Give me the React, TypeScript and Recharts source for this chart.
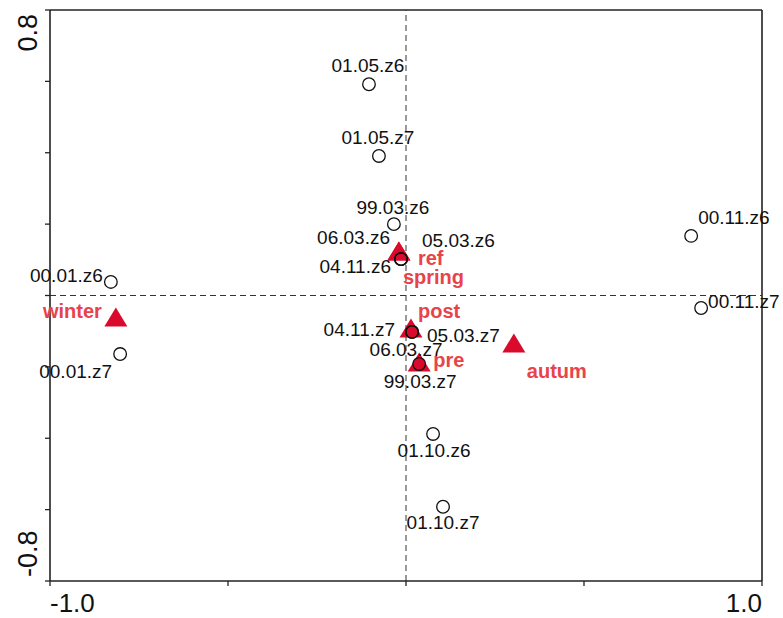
import { ScatterChart, Scatter, XAxis, YAxis, ReferenceLine } from "recharts";

// site scores (open circles)
const siteNames = [
  "01.05.z6", "01.05.z7", "99.03.z6", "04.11.z6", "06.03.z6", "05.03.z6",
  "04.11.z7", "05.03.z7", "06.03.z7", "99.03.z7", "00.01.z6", "00.01.z7",
  "00.11.z6", "00.11.z7", "01.10.z6", "01.10.z7",
];
const siteX = [
  -0.104, -0.076, -0.034, -0.014, -0.014, -0.014,
  0.017, 0.017, 0.017, 0.037, -0.829, -0.803,
  0.801, 0.829, 0.076, 0.104,
];
const siteY = [
  0.592, 0.391, 0.2, 0.102, 0.102, 0.102,
  -0.102, -0.102, -0.102, -0.192, 0.038, -0.164,
  0.167, -0.035, -0.388, -0.592,
];

// environmental / season centroids (red triangles)
const factorNames = ["ref", "spring", "post", "pre", "winter", "autum"];
const factorX = [-0.02, -0.02, 0.014, 0.037, -0.815, 0.303];
const factorY = [0.125, 0.125, -0.091, -0.186, -0.06, -0.133];

const xTicks = [-1, -0.5, 0, 0.5, 1];
const yTicks = [-0.8, -0.6, -0.4, -0.2, 0, 0.2, 0.4, 0.6, 0.8];

// label placement: [dx, dy, anchor]
type Place = [number, number, "start" | "middle" | "end"];
const siteLabelPlace: Record<string, Place> = {
  "01.05.z6": [-1, -12, "middle"],
  "01.05.z7": [-1, -12, "middle"],
  "99.03.z6": [-1, -10, "middle"],
  "04.11.z6": [-10, 14, "end"],
  "06.03.z6": [-11, -15, "end"],
  "05.03.z6": [21, -12, "start"],
  "04.11.z7": [-17, 4, "end"],
  "05.03.z7": [15, 10, "start"],
  "06.03.z7": [-6, 24, "middle"],
  "99.03.z7": [1, 24, "middle"],
  "00.01.z6": [-8, 0, "end"],
  "00.01.z7": [-8, 24, "end"],
  "00.11.z6": [7, -12, "start"],
  "00.11.z7": [7, 0, "start"],
  "01.10.z6": [1, 23, "middle"],
  "01.10.z7": [0, 22, "middle"],
};
const factorLabelPlace: Record<string, Place> = {
  ref: [19, 14, "start"],
  spring: [4, 33, "start"],
  post: [7, -10, "start"],
  pre: [14, 5, "start"],
  winter: [-14, 1, "end"],
  autum: [13, 35, "start"],
};

const sites = siteNames.map((name, i) => ({ name, x: siteX[i], y: siteY[i] }));
const factors = factorNames.map((name, i) => ({ name, x: factorX[i], y: factorY[i] }));

const FONT = "'Liberation Sans', Arial, sans-serif";
const AXIS = "#222";
const RED = "#da0a2c";
const LABEL_RED = "#e8434b";

function SiteShape(props: any) {
  const { cx, cy, payload } = props;
  const [dx, dy, anchor] = siteLabelPlace[payload.name] || [0, -12, "middle"];
  return (
    <g>
      <circle cx={cx} cy={cy} r={6.3} fill="none" stroke="#111" strokeWidth={1.3} />
      <text x={cx + dx} y={cy + dy} textAnchor={anchor} fontSize={19} fontFamily={FONT} fill="#111">
        {payload.name}
      </text>
    </g>
  );
}

function FactorShape(props: any) {
  const { cx, cy, payload } = props;
  const [dx, dy, anchor] = factorLabelPlace[payload.name] || [10, 0, "start"];
  const pts = `${cx},${cy - 9.5} ${cx - 11.5},${cy + 9.5} ${cx + 11.5},${cy + 9.5}`;
  return (
    <g>
      <polygon points={pts} fill={RED} />
      <text
        x={cx + dx}
        y={cy + dy}
        textAnchor={anchor}
        fontSize={20}
        fontWeight="bold"
        fontFamily={FONT}
        fill={LABEL_RED}
      >
        {payload.name}
      </text>
    </g>
  );
}

function XTick(props: any) {
  const { x, y, payload } = props;
  if (payload.value !== -1 && payload.value !== 1) return null;
  const first = payload.value === -1;
  return (
    <text x={x} y={y + 25} textAnchor={first ? "start" : "end"} fontSize={26} fontFamily={FONT} fill="#111">
      {payload.value.toFixed(1)}
    </text>
  );
}

function YTick(props: any) {
  const { y, payload } = props;
  if (payload.value !== 0.8 && payload.value !== -0.8) return null;
  const top = payload.value === 0.8;
  const bx = 37;
  const by = top ? y + 4 : y - 4;
  return (
    <text
      x={bx}
      y={by}
      transform={`rotate(-90, ${bx}, ${by})`}
      textAnchor={top ? "end" : "start"}
      fontSize={27}
      fontFamily={FONT}
      fill="#111"
    >
      {payload.value.toFixed(1)}
    </text>
  );
}

export default function App() {
  return (
    <div style={{ position: "absolute", left: 0, top: 0, background: "#fff" }}>
      <ScatterChart width={783} height={618} margin={{ top: 10, right: 21, left: 0, bottom: 0 }}>
        <XAxis
          type="number"
          dataKey="x"
          domain={[-1, 1]}
          ticks={xTicks}
          interval={0}
          tick={<XTick />}
          tickSize={5}
          tickMargin={1}
          height={37}
          axisLine={{ stroke: AXIS, strokeWidth: 1.6 }}
          tickLine={{ stroke: AXIS, strokeWidth: 1.3 }}
        />
        <YAxis
          type="number"
          dataKey="y"
          domain={[-0.8, 0.8]}
          ticks={yTicks}
          interval={0}
          tick={<YTick />}
          tickSize={5}
          tickMargin={1}
          width={50}
          axisLine={{ stroke: AXIS, strokeWidth: 1.6 }}
          tickLine={{ stroke: AXIS, strokeWidth: 1.3 }}
        />
        <ReferenceLine y={0.8} stroke={AXIS} strokeWidth={1.6} />
        <ReferenceLine x={1} stroke={AXIS} strokeWidth={1.6} />
        <ReferenceLine x={0} stroke="#333" strokeWidth={1} strokeDasharray="6 4" />
        <ReferenceLine y={0} stroke="#333" strokeWidth={1} strokeDasharray="6 4" />
        <Scatter data={factors} shape={<FactorShape />} isAnimationActive={false} />
        <Scatter data={sites} shape={<SiteShape />} isAnimationActive={false} />
      </ScatterChart>
    </div>
  );
}
